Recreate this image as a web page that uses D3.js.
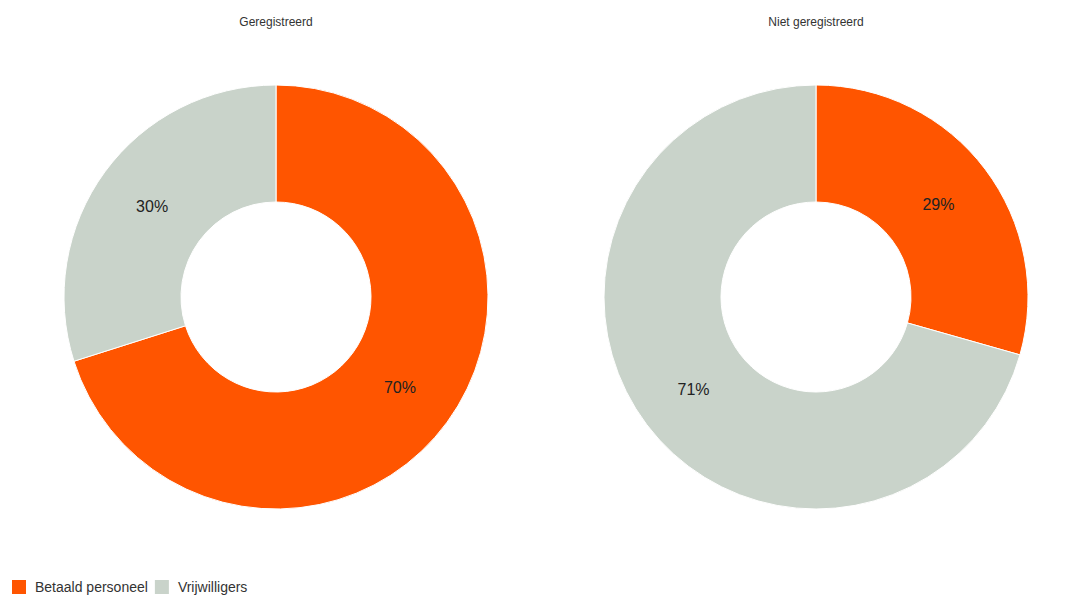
<!DOCTYPE html>
<html>
<head>
<meta charset="utf-8">
<script src="https://cdn.jsdelivr.net/npm/d3@7"></script>
<style>
  html, body { margin: 0; padding: 0; background: #fff; }
  svg { display: block; font-family: "Liberation Sans", Arial, sans-serif; }
</style>
</head>
<body>
<svg id="chart" width="1085" height="597"></svg>
<script>
const categories = ["Betaald personeel", "Vrijwilligers"];
const panelTitles = ["Geregistreerd", "Niet geregistreerd"];
const registeredValues = [70.1, 29.9];
const unregisteredValues = [29.4, 70.6];
const colors = ["#FF5500", "#C9D3CA"];

const panels = [
  { title: panelTitles[0], values: registeredValues },
  { title: panelTitles[1], values: unregisteredValues }
];

const svg = d3.select("#chart");
const centerX = d3.scalePoint().domain(panelTitles).range([276, 816]);
const cy = 297, outerR = 212, innerR = 95;

const color = d3.scaleOrdinal().domain(categories).range(colors);
const pie = d3.pie().sort(null).value(d => d.value);
const arc = d3.arc().innerRadius(innerR).outerRadius(outerR);

panels.forEach(p => {
  const cx = centerX(p.title);
  svg.append("text")
    .attr("x", cx).attr("y", 26)
    .attr("text-anchor", "middle")
    .attr("font-size", 12)
    .attr("fill", "#333")
    .text(p.title);

  const g = svg.append("g").attr("transform", `translate(${cx},${cy})`);
  const data = pie(categories.map((c, i) => ({ cat: c, value: p.values[i] })));
  g.selectAll("path").data(data).join("path")
    .attr("d", arc)
    .attr("fill", d => color(d.data.cat))
    .attr("stroke", "#fff")
    .attr("stroke-width", 1);
  g.selectAll("text.lbl").data(data).join("text")
    .attr("class", "lbl")
    .attr("transform", d => `translate(${arc.centroid(d)})`)
    .attr("text-anchor", "middle")
    .attr("dy", "0.35em")
    .attr("font-size", 16)
    .attr("fill", "#222")
    .text(d => Math.round(d.data.value) + "%");
});

// legend
const legend = svg.append("g").attr("transform", "translate(12,580)");
let x = 0;
categories.forEach((c, i) => {
  const item = legend.append("g").attr("transform", `translate(${x},0)`);
  item.append("rect").attr("width", 14).attr("height", 14).attr("fill", color(c));
  const t = item.append("text").attr("x", 23).attr("y", 12)
    .attr("font-size", 14).attr("fill", "#333").text(c);
  x += 23 + t.node().getComputedTextLength() + 7;
});
</script>
</body>
</html>
